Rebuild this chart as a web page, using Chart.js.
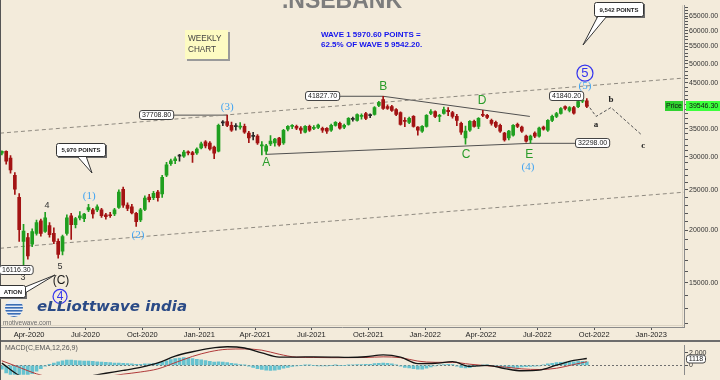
<!DOCTYPE html>
<html>
<head>
<meta charset="utf-8">
<title>NSEBANK weekly</title>
<script src="https://cdn.jsdelivr.net/npm/chart.js@4.4.1/dist/chart.umd.min.js"></script>
<style>
  html, body { margin: 0; padding: 0; background: #f3ebdb; }
  #wrap { width: 720px; height: 380px; overflow: hidden; }
  canvas { display: block; }
</style>
</head>
<body>
<div id="wrap">
  <canvas id="priceChart" width="720" height="340"></canvas>
  <canvas id="macdChart" width="720" height="40"></canvas>
</div>
<script>
/* ── weekly candles, first one is the week of 17 Feb 2020 ── */
const firstWeek = '2020-02-17';
const opens  = [30600,30900,29800,27100,24000,18850,19250,18550,19700,21100,19900,20550,19700,18850,17850,19700,21700,20650,21450,21350,
                22400,22400,22400,22400,21800,21800,21900,22700,25100,23000,22800,22000,21200,22450,24050,23950,24700,24450,27100,28900,
                29350,30100,30100,30800,30700,30650,31500,32550,32350,31650,30950,36150,36400,35650,35400,35300,35450,34150,33550,33600,
                31850,30950,32200,32350,33250,32350,34900,35450,35450,35100,34350,35450,35050,35250,35050,35050,34700,35650,36050,35300,
                35850,36850,36650,37450,38050,37600,37850,39750,41050,39500,39500,38900,38250,36650,36250,37450,35300,34550,35450,38050,
                38450,37450,38050,38700,38250,37450,36050,33250,34700,36450,35450,37850,37650,36650,36250,35650,34150,33250,33800,35850,
                35300,33600,32900,34150,33600,35300,34700,36650,37450,38050,39500,38700,39300,39500,40700,40800];
const highs  = [31000,31000,30200,27500,24500,20700,19700,20200,21200,21300,22100,20900,20300,19100,19500,21800,22000,21500,22200,22000,
                23100,22600,23050,22600,22000,22100,22600,25000,25400,23300,23100,22100,22600,24200,24400,24800,24950,27100,29100,29600,
                30000,30400,31100,31000,30900,31500,32500,32800,32600,31800,35900,36600,37708.8,36300,36000,36200,35900,34500,34300,33900,
                32600,32100,33700,33200,33400,34900,35600,35800,35700,35400,35600,35700,35600,35900,35300,35200,35900,36400,36300,35900,
                37200,37300,38000,38000,38300,38000,39500,40700,41827.7,39900,39800,39100,38400,37200,37300,37600,35400,35600,37800,38900,
                38600,37900,39400,39300,38500,37900,36300,35500,36600,36700,37200,38700,37900,36900,36500,35900,34300,34700,35800,36100,
                35500,33800,33800,34400,35300,35500,36800,37700,38300,39300,39700,39500,39600,40800,41840.2,41300];
const lows   = [30300,28800,27400,24400,18850,16116.3,17100,18300,19500,19400,19800,19300,18600,17190,17500,19500,19050,20300,21200,21000,
                22200,21400,22200,21500,21300,21500,21700,22600,22700,22300,21900,20450,21000,22300,23400,23700,23500,24000,26900,28600,
                28900,29300,29900,30300,29100,30400,31300,31500,31100,29700,30800,35600,35400,34500,34700,34900,34100,32400,32900,32100,
                30300,30400,31900,31800,31800,32100,34600,35000,34800,34100,34200,34500,34800,35000,34300,34100,34500,35500,34900,35000,
                35700,36500,36500,36900,36800,37200,37700,39500,38900,38900,38500,37600,35700,35400,36000,35300,33800,34300,35300,37800,
                37200,36400,37900,37600,37100,35600,33900,32155,34500,35300,35000,37400,37000,35700,35200,34300,32700,32900,33600,35200,
                34300,32500,32298,33300,33400,34700,34500,36400,37200,37900,38800,38400,37900,39300,40400,39300];
const closes = [30900,29300,27900,25100,20100,19950,17400,19900,20900,19700,21450,19550,18850,17550,19350,21450,20650,21350,21700,21900,
                22700,21900,22800,21700,21600,21700,22400,24700,23000,22600,22050,21000,22400,23900,23700,24550,23950,26800,28700,29350,
                29650,30150,30800,30650,30350,31300,32200,31850,31300,30600,35650,36250,35650,34700,35500,35500,34350,33250,33650,32350,
                32050,31850,32700,33050,32000,34700,35450,35650,35100,34700,35450,34700,35250,35700,34700,34550,35650,36250,35100,35650,
                37050,36900,37850,37650,37050,37700,39300,40400,39100,39100,38700,37850,35850,36450,37050,35450,34700,35450,37650,38450,
                37450,37650,38900,38450,37450,36650,34350,34550,36450,35450,37050,37650,37250,36050,35450,34550,32900,34550,35650,35450,
                34550,32700,33600,33600,35100,34900,36650,37450,38050,39100,39100,39300,38100,40600,40900,39546.3];

/* ── axes ── */
const tickDates  = ['2020-04-01','2020-07-01','2020-10-01','2021-01-01','2021-04-01','2021-07-01',
                    '2021-10-01','2022-01-01','2022-04-01','2022-07-01','2022-10-01','2023-01-01'];
const tickLabels = ['Apr-2020','Jul-2020','Oct-2020','Jan-2021','Apr-2021','Jul-2021',
                    'Oct-2021','Jan-2022','Apr-2022','Jul-2022','Oct-2022','Jan-2023'];
const priceTicks = [15000,20000,25000,30000,35000,40000,45000,50000,55000,60000,65000];

/* ── MACD(12,26,9) ── */
const macdWeeks  = [0,4,8,12,16,20,24,28,32,36,40,44,48,52,56,60,64,68,72,76,80,84,88,92,96,100,104,108,112,116,120,124,128,132,135];
const macdLine   = [375,-1600,-2600,-2700,-2300,-1750,-1250,-800,-300,400,1500,2200,2750,3000,2800,2000,1350,1350,1375,1350,
                    1300,1400,1700,1350,300,350,600,-150,0,-500,-850,-750,50,800,1118];
const signalLine = [750,-300,-1350,-2000,-2200,-2100,-1800,-1400,-1050,-550,450,1450,2200,2600,2650,2450,1800,1330,1280,1250,
                    1250,1280,1380,1250,700,500,500,200,-50,-250,-550,-650,-450,150,600];
const histogram  = [-600,-1200,-1700,-2000,-2000,-1800,-1600,-1300,-900,-500,-100,200,400,600,750,850,850,800,750,700,
                    700,650,600,550,500,450,400,400,350,300,250,200,200,250,250,300,350,500,750,950,
                    1100,1200,1250,1200,1100,1000,900,800,650,550,600,550,450,350,250,150,50,-100,-300,-500,
                    -650,-750,-800,-750,-650,-450,-300,-150,-50,0,50,50,0,-50,-50,-50,0,50,0,0,
                    50,100,150,150,200,200,300,350,400,350,250,100,-100,-300,-400,-500,-600,-600,-450,-250,
                    -50,100,150,200,150,-100,-300,-400,-350,-200,-50,50,50,0,-100,-200,-350,-400,-350,-300,
                    -250,-200,-150,-100,-50,100,250,350,450,500,550,600,600,650,650,600];

/* ── chart markup (anchored in days / prices) ── */
const guides = [
  { pts: [[44, 34154], [1149, 46230]], color: '#8f8a80', dash: [4, 3] },
  { pts: [[44, 18146], [1149, 24694]], color: '#8f8a80', dash: [4, 3] },
  { pts: [[474, 30400], [901, 32298], [975, 32298]], color: '#505050' },
  { pts: [[663, 41827.7], [900, 37442]], color: '#505050' },
  { pts: [[320, 37708.8], [411, 37708.8]], color: '#505050' },
  { pts: [[588, 41827.7], [663, 41827.7]], color: '#505050' },
  { pts: [[992, 40170], [1007, 37442], [1031, 39312], [1081, 33788]], color: '#555', dash: [3, 2] }
];
const tags = [
  { t: '16116.30', d: 69,   p: 16116.3 },
  { t: '37708.80', d: 296,  p: 37708.8 },
  { t: '41827.70', d: 564,  p: 41827.7 },
  { t: '41840.20', d: 959,  p: 41840.2 },
  { t: '32298.00', d: 1000, p: 32298 }
];
const BLUE = '#3fa3f2', GRN = '#2a9c2a';
const waves = [
  { t: '(1)', d: 188,  p: 24300, c: BLUE, f: '11px "Liberation Serif"' },
  { t: '(2)', d: 267,  p: 19570, c: BLUE, f: '11px "Liberation Serif"' },
  { t: '(3)', d: 411,  p: 39520, c: BLUE, f: '11px "Liberation Serif"' },
  { t: '(4)', d: 897,  p: 28420, c: BLUE, f: '11px "Liberation Serif"' },
  { t: '(5)', d: 989,  p: 44300, c: BLUE, f: '11px "Liberation Serif"' },
  { t: 'A',   d: 474,  p: 29040, c: GRN,  f: '12px "Liberation Sans"' },
  { t: 'B',   d: 663,  p: 44270, c: GRN,  f: '12px "Liberation Sans"' },
  { t: 'C',   d: 797,  p: 30480, c: GRN,  f: '12px "Liberation Sans"' },
  { t: 'D',   d: 823,  p: 40830, c: GRN,  f: '12px "Liberation Sans"' },
  { t: 'E',   d: 899,  p: 30480, c: GRN,  f: '12px "Liberation Sans"' },
  { t: '3',   d: 81,   p: 15514, c: '#333', f: '9px "Liberation Sans"' },
  { t: '4',   d: 120,  p: 23018, c: '#333', f: '9px "Liberation Sans"' },
  { t: '5',   d: 141,  p: 16464, c: '#333', f: '9px "Liberation Sans"' },
  { t: '(C)', d: 142.5, p: 15265, c: '#1a1a1a', f: '12px "Liberation Sans"' },
  { t: 'a',   d: 1007, p: 35860, c: '#222', f: 'bold 9px "Liberation Serif"' },
  { t: 'b',   d: 1031, p: 41270, c: '#222', f: 'bold 9px "Liberation Serif"' },
  { t: 'c',   d: 1083, p: 32010, c: '#222', f: 'bold 9px "Liberation Serif"' },
  { t: '5',   d: 989,  p: 47490, c: '#3535ee', f: '13px "Liberation Sans"', ring: 8 },
  { t: '4',   d: 141,  p: 13925, c: '#3535ee', f: '12px "Liberation Sans"', ring: 7 }
];

/* ── helpers ── */
const BASE = Date.UTC(2020, 0, 1);
const dayOf = s => (Date.parse(s) - BASE) / 864e5;
const weekDay = i => dayOf(firstWeek) + 7 * i;
const tickDays = tickDates.map(dayOf);
const X_MIN = 44, X_MAX = 1149;

const UP = '#1f9f1f', DOWN = '#a31313', FLAT = '#2b2b2b';
const candleColors = opens.map((o, i) => Math.abs(closes[i] - o) / o < 0.003 ? FLAT : (closes[i] > o ? UP : DOWN));

const allPriceTicks = [];
for (let v = 12000; v <= 68000; v += 1000) allPriceTicks.push(v);

function rrect(ctx, x, y, w, h, r) {
  ctx.beginPath();
  ctx.moveTo(x + r, y);
  ctx.arcTo(x + w, y, x + w, y + h, r);
  ctx.arcTo(x + w, y + h, x, y + h, r);
  ctx.arcTo(x, y + h, x, y, r);
  ctx.arcTo(x, y, x + w, y, r);
  ctx.closePath();
}

function callout(ctx, x, y, w, h, text, tail, align) {
  ctx.fillStyle = '#6a6a6a';
  ctx.fillRect(x + 2, y + 2, w, h);
  ctx.beginPath();
  ctx.moveTo(tail[0], tail[1]); ctx.lineTo(tail[4], tail[5]); ctx.lineTo(tail[2], tail[3]);
  ctx.closePath();
  ctx.fillStyle = '#fff'; ctx.fill();
  ctx.strokeStyle = '#333'; ctx.lineWidth = 1; ctx.stroke();
  rrect(ctx, x + 0.5, y + 0.5, w, h, 2);
  ctx.fillStyle = '#fff'; ctx.fill(); ctx.stroke();
  ctx.font = 'bold 6px "Liberation Sans"';
  ctx.fillStyle = '#222'; ctx.textBaseline = 'middle';
  if (align === 'right') { ctx.textAlign = 'right'; ctx.fillText(text, x + w - 3, y + h / 2 + 1); }
  else { ctx.textAlign = 'center'; ctx.fillText(text, x + w / 2 + 0.5, y + h / 2 + 1); }
}

const overlay = {
  id: 'overlay',
  afterDraw(chart) {
    const { ctx, chartArea: a, scales: { x, y } } = chart;
    ctx.save();

    /* frame */
    ctx.fillStyle = '#dcd4c4';
    ctx.fillRect(a.left, a.bottom - 2, a.right - a.left, 1);
    ctx.fillRect(a.right - 2, a.top, 1, a.bottom - a.top);
    ctx.fillStyle = '#555';
    ctx.fillRect(0, 0, 1, 340);

    /* title */
    ctx.font = 'bold 23px "Liberation Sans"';
    ctx.fillStyle = '#7d7d7d'; ctx.textAlign = 'center'; ctx.textBaseline = 'alphabetic';
    ctx.fillText('.NSEBANK', 342, 8);

    /* weekly note */
    ctx.fillStyle = '#9a9a9a'; ctx.fillRect(187, 32, 43, 29);
    ctx.fillStyle = '#fdfbc2'; ctx.fillRect(185, 30, 43, 29);
    ctx.font = '8.2px "Liberation Sans"'; ctx.fillStyle = '#444'; ctx.textAlign = 'left';
    ctx.fillText('WEEKLY', 188, 41);
    ctx.fillText('CHART', 188, 52);

    /* wave ratio note */
    ctx.font = 'bold 8px "Liberation Sans"'; ctx.fillStyle = '#1414ee';
    ctx.fillText('WAVE 1 5970.60 POINTS =', 321, 37);
    ctx.fillText('62.5% OF WAVE 5 9542.20.', 321, 47);

    /* callouts */
    callout(ctx, 594, 2, 49, 14, '9,542 POINTS', [598, 16, 607, 16, 583, 45]);
    callout(ctx, 56, 143, 49, 13, '5,970 POINTS', [77, 156, 86, 156, 92, 173]);
    callout(ctx, -20, 285, 45, 12, 'ATION', [25, 287, 25, 293, 55, 275], 'right');

    /* price tags */
    ctx.font = '7px "Liberation Sans"'; ctx.textBaseline = 'middle'; ctx.textAlign = 'center';
    tags.forEach(g => {
      const cx = x.getPixelForValue(g.d), cy = Math.round(y.getPixelForValue(g.p));
      const w = ctx.measureText(g.t).width + 5, h = 9;
      rrect(ctx, Math.round(cx - w / 2) + 0.5, cy - 4.5, w, h, 2.5);
      ctx.fillStyle = '#fff'; ctx.fill();
      ctx.strokeStyle = '#444'; ctx.lineWidth = 1; ctx.stroke();
      ctx.fillStyle = '#222';
      ctx.fillText(g.t, Math.round(cx - w / 2) + w / 2 + 0.5, cy + 0.5);
    });

    /* wave labels */
    waves.forEach(l => {
      const px = x.getPixelForValue(l.d), py = y.getPixelForValue(l.p);
      ctx.font = l.f; ctx.fillStyle = l.c; ctx.textAlign = 'center'; ctx.textBaseline = 'middle';
      ctx.fillText(l.t, px, py + 0.5);
      if (l.ring) {
        ctx.beginPath(); ctx.arc(px, py, l.ring, 0, Math.PI * 2);
        ctx.strokeStyle = l.c; ctx.lineWidth = 1.2; ctx.stroke();
      }
    });

    /* watermark */
    ctx.save();
    ctx.beginPath(); ctx.arc(14, 308, 9, 0, Math.PI * 2); ctx.clip();
    ctx.fillStyle = '#e8eef7'; ctx.fillRect(4, 298, 20, 20);
    ctx.fillStyle = '#3a6db5';
    for (let k = 0; k < 5; k++) ctx.fillRect(4, 304 + k * 3, 20, 1.6);
    ctx.restore();
    ctx.font = 'bold italic 14px "DejaVu Sans"';
    const logo = 'eLLiottwave india';
    const lw = ctx.measureText(logo).width;
    ctx.save();
    ctx.translate(37, 311); ctx.scale(150 / lw, 1);
    ctx.fillStyle = '#2a4a86'; ctx.textAlign = 'left'; ctx.textBaseline = 'alphabetic';
    ctx.fillText(logo, 0, 0);
    ctx.restore();
    ctx.font = '6.5px "Liberation Sans"'; ctx.fillStyle = '#6a6a6a';
    ctx.textAlign = 'left'; ctx.textBaseline = 'alphabetic';
    ctx.fillText('motivewave.com', 3, 325);

    /* last price */
    const last = closes[closes.length - 1];
    const ly = Math.round(y.getPixelForValue(last));
    ctx.fillStyle = '#2fd12f'; ctx.fillRect(665, ly - 5, 18, 10);
    ctx.fillStyle = '#3cff3c'; ctx.fillRect(686, ly - 5, 34, 10);
    ctx.font = '7px "Liberation Sans"'; ctx.fillStyle = '#111'; ctx.textBaseline = 'middle';
    ctx.textAlign = 'center'; ctx.fillText('Price', 674, ly + 0.5);
    ctx.textAlign = 'left'; ctx.fillText(last.toFixed(2), 689, ly + 0.5);

    ctx.restore();
  }
};

Chart.defaults.font.family = '"Liberation Sans", Arial, sans-serif';

const bodies = opens.map((o, i) => ({ x: weekDay(i), y: [o, closes[i]] }));
const wicks  = lows.map((l, i) => ({ x: weekDay(i), y: [l, highs[i]] }));

const guideSets = guides.map(g => ({
  type: 'line',
  data: g.pts.map(p => ({ x: p[0], y: p[1] })),
  borderColor: g.color, borderWidth: 1, borderDash: g.dash || [],
  pointRadius: 0, tension: 0, order: 5
}));

new Chart(document.getElementById('priceChart'), {
  type: 'bar',
  data: {
    datasets: [
      { type: 'bar', label: 'body', data: bodies, backgroundColor: candleColors, barThickness: 3, grouped: false, minBarLength: 1, order: 1 },
      { type: 'bar', label: 'wick', data: wicks, backgroundColor: candleColors, barThickness: 1, grouped: false, order: 2 },
      ...guideSets
    ]
  },
  options: {
    responsive: false, animation: false, devicePixelRatio: 1,
    layout: { padding: 0 },
    plugins: { legend: { display: false }, tooltip: { enabled: false } },
    scales: {
      x: {
        type: 'linear', min: X_MIN, max: X_MAX, offset: false,
        grid: { drawOnChartArea: false, drawTicks: true, tickLength: 3, color: '#555', offset: false },
        border: { color: '#8a8a8a' },
        ticks: { autoSkip: false, maxRotation: 0, padding: 0, color: '#222', font: { size: 7.5 },
                 callback: (v, i) => tickLabels[i] },
        afterBuildTicks: s => { s.ticks = tickDays.map(v => ({ value: v })); },
        afterFit: s => { s.height = 13; }
      },
      y: {
        type: 'logarithmic', position: 'right', min: 11774, max: 68985,
        grid: { drawOnChartArea: false, tickLength: 4, color: '#555' },
        border: { color: '#8a8a8a' },
        ticks: { autoSkip: false, padding: 1, color: '#333', font: { size: 7 },
                 callback: v => priceTicks.includes(v) ? v.toFixed(2) : '' },
        afterBuildTicks: s => { s.ticks = allPriceTicks.map(v => ({ value: v })); },
        afterFit: s => { s.width = 36; }
      }
    }
  },
  plugins: [overlay]
});

/* ── MACD panel ── */
const macdPanel = {
  id: 'macdPanel',
  beforeDatasetsDraw(chart) {
    const { ctx, chartArea: a, scales: { y } } = chart;
    const zy = Math.round(y.getPixelForValue(0)) + 0.5;
    ctx.save();
    ctx.strokeStyle = '#6f6f6f'; ctx.lineWidth = 1; ctx.setLineDash([2, 2]);
    ctx.beginPath(); ctx.moveTo(a.left, zy); ctx.lineTo(a.right, zy); ctx.stroke();
    ctx.restore();
  },
  afterDraw(chart) {
    const { ctx, chartArea: a, scales: { y } } = chart;
    ctx.save();
    ctx.fillStyle = '#6d6d6d'; ctx.fillRect(0, 0, 720, 2);
    ctx.fillStyle = '#555'; ctx.fillRect(0, 0, 1, 40);
    ctx.font = '7px "Liberation Sans"'; ctx.fillStyle = '#555';
    ctx.textAlign = 'left'; ctx.textBaseline = 'middle';
    ctx.fillText('MACD(C,EMA,12,26,9)', 5, 8.5);
    const v = macdLine[macdLine.length - 1];
    const vy = Math.round(y.getPixelForValue(v)) + 1;
    rrect(ctx, 686.5, vy - 4, 19, 8, 2.5);
    ctx.fillStyle = '#fff'; ctx.fill();
    ctx.strokeStyle = '#444'; ctx.lineWidth = 1; ctx.stroke();
    ctx.fillStyle = '#222'; ctx.textAlign = 'center';
    ctx.fillText(String(v), 696, vy + 0.5);
    ctx.restore();
  }
};

new Chart(document.getElementById('macdChart'), {
  type: 'bar',
  data: {
    datasets: [
      { type: 'line', label: 'MACD', data: macdWeeks.map((w, k) => ({ x: weekDay(w), y: macdLine[k] })),
        borderColor: '#141414', borderWidth: 1.3, pointRadius: 0, cubicInterpolationMode: 'monotone', order: 1 },
      { type: 'line', label: 'Signal', data: macdWeeks.map((w, k) => ({ x: weekDay(w), y: signalLine[k] })),
        borderColor: '#b03a3a', borderWidth: 1, pointRadius: 0, cubicInterpolationMode: 'monotone', order: 2 },
      { type: 'bar', label: 'Hist', data: histogram.map((v, i) => ({ x: weekDay(i), y: v })),
        backgroundColor: '#66c2cf', barThickness: 3, grouped: false, order: 3 }
    ]
  },
  options: {
    responsive: false, animation: false, devicePixelRatio: 1,
    layout: { padding: { top: 2 } },
    plugins: { legend: { display: false }, tooltip: { enabled: false } },
    scales: {
      x: { type: 'linear', min: X_MIN, max: X_MAX, offset: false, display: false },
      y: {
        type: 'linear', position: 'right', min: -1500, max: 3250,
        grid: { drawOnChartArea: false, tickLength: 4, color: '#555' },
        border: { color: '#8a8a8a' },
        ticks: { autoSkip: false, padding: 1, color: '#333', font: { size: 7 } },
        afterBuildTicks: s => { s.ticks = [{ value: 0 }, { value: 2000 }]; },
        afterFit: s => { s.width = 36; }
      }
    }
  },
  plugins: [macdPanel]
});
</script>
</body>
</html>
